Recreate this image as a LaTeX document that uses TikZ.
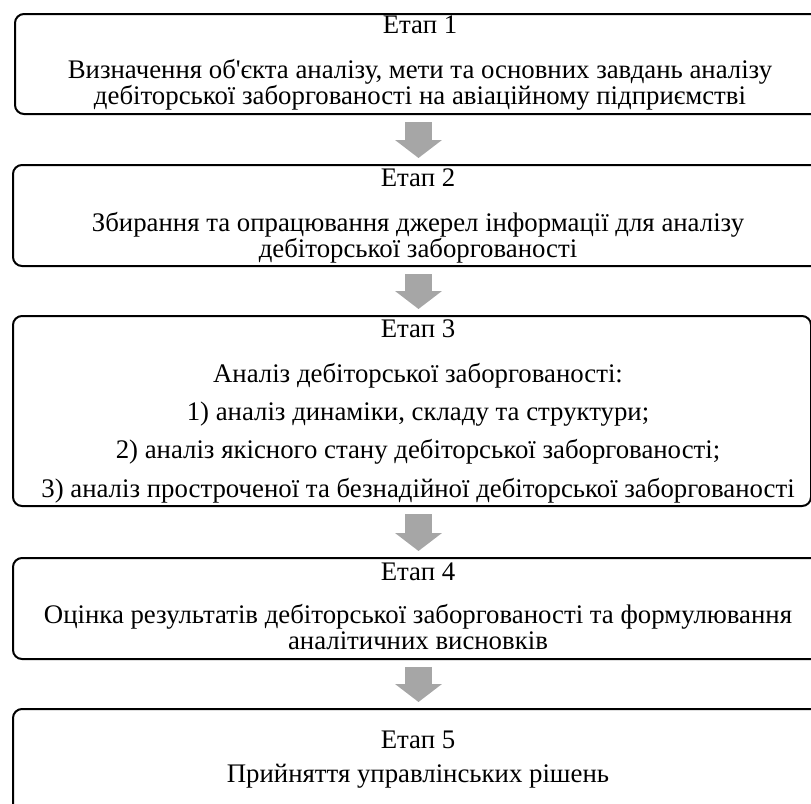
\documentclass[tikz,border=0pt]{standalone}
\usepackage{fontspec}
\setmainfont{Liberation Serif}
\usetikzlibrary{arrows.meta}

\definecolor{arrowgray}{HTML}{A6A6A6}
% text of one stage, centred; #1 is the extra width on the right
\newcommand{\stagebox}[2][22pt]{\hspace*{12pt}\parbox[t]{786pt}{\centering #2}\hspace*{#1}}

\tikzset{
	stage/.style={draw, line width=2pt, rounded corners=9pt, anchor=north west,
		inner sep=0pt, font=\fontsize{26.8}{26}\selectfont},
	flow/.style={draw=arrowgray, line width=27pt,
		-{Triangle[width=46pt,length=18pt]}, shorten <=7pt, shorten >=6pt}
}

\begin{document}
\begin{tikzpicture}[x=1pt, y=-1pt]
	\useasboundingbox (0,0) rectangle (811,803);
	\clip (0,0) rectangle (811,803);
	\coordinate (ax) at (418.5,0);
	
	\node[stage, text height=19pt, text depth=81pt] (s1) at (14,13)
		{\stagebox{Етап 1\\[19pt]Визначення об\textquotesingle єкта аналізу, мети та основних завдань аналізу\\дебіторської заборгованості на авіаційному підприємстві}};
	\node[stage, text height=21pt, text depth=80pt] (s2) at (12,164)
		{\stagebox{Етап 2\\[19pt]Збирання та опрацювання джерел інформації для аналізу\\дебіторської заборгованості}};
	\node[stage, text height=21pt, text depth=169pt] (s3) at (12,315)
		{\stagebox[0pt]{Етап 3\\[19pt]Аналіз дебіторської заборгованості:\\[12pt]1) аналіз динаміки, складу та структури;\\[12pt]2) аналіз якісного стану дебіторської заборгованості;\\[13pt]3) аналіз простроченої та безнадійної дебіторської заборгованості}};
	\node[stage, text height=22pt, text depth=79pt] (s4) at (12,557)
		{\stagebox{Етап 4\\[17pt]Оцінка результатів дебіторської заборгованості та формулювання\\аналітичних висновків}};
	\node[stage, text height=39pt, text depth=70pt] (s5) at (12,708)
		{\stagebox{Етап 5\\[8pt]Прийняття управлінських рішень}};
	
	\foreach \a/\b in {s1/s2, s2/s3, s3/s4, s4/s5}
		\draw[flow] (\a.south -| ax) -- (\b.north -| ax);
\end{tikzpicture}
\end{document}
